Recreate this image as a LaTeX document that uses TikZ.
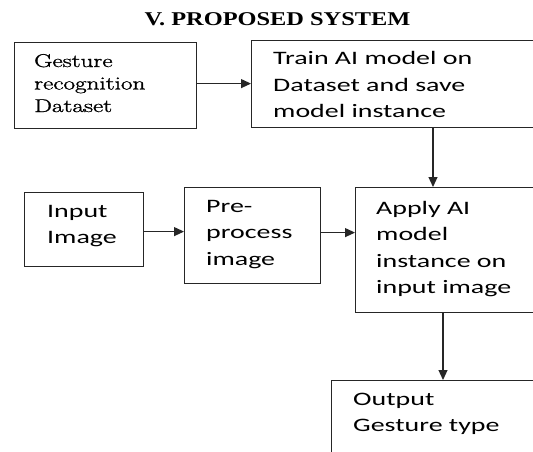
\documentclass[tikz,border=0pt]{standalone}
\usepackage{fontspec}
\usetikzlibrary{arrows.meta}
\newfontfamily\sansx{Carlito}[FakeStretch=1.47]
\newfontfamily\titlex{Liberation Serif}[FakeStretch=1.25,BoldFont={Liberation Serif Bold}]
\newfontfamily\lmx{Latin Modern Roman}[FakeBold=1.2]
\begin{document}
\begin{tikzpicture}[x=1pt,y=-1pt,
  box/.style={draw=black!85, line width=1.2pt, rectangle, inner sep=0pt, anchor=north west},
  arr/.style={draw=black!85, line width=1.2pt, -{Triangle[length=10pt,width=9pt]}},
  stxt/.style={anchor=base west, inner sep=0pt, font=\sansx\fontsize{19}{26.5}\selectfont},
  rtxt/.style={anchor=base west, inner sep=0pt, font=\lmx\fontsize{18.5}{22.5}\selectfont}]
\useasboundingbox (0,0) rectangle (533,452);
\clip (0,0) rectangle (533,452);
% title
\node[anchor=base, inner sep=0pt, font=\titlex\bfseries\fontsize{19.5}{22}\selectfont] (title) at (277.5,26) {V. PROPOSED SYSTEM};
% boxes
\node[box, minimum width=182pt, minimum height=86pt] (gd) at (14,42) {};
\node[box, minimum width=320pt, minimum height=87pt] (tr) at (251,40) {};
\node[box, minimum width=119pt, minimum height=74pt] (in) at (24,192) {};
\node[box, minimum width=136pt, minimum height=96pt] (pre) at (184,187) {};
\node[box, minimum width=220pt, minimum height=125pt] (ap) at (355,187) {};
\node[box, minimum width=240pt, minimum height=110pt] (out) at (331,380) {};
% texts
\node[rtxt] (gdt) at (34,67) {\scalebox{1.36}[1]{\parbox[t]{120pt}{\raggedright Gesture\\recognition\\Dataset}}};
\node[stxt] (trt) at (273,65) {\parbox[t]{300pt}{\raggedright Train AI model on\\Dataset and save\\model instance}};
\node[stxt] (int) at (47,217) {\parbox[t]{150pt}{\raggedright Input\\Image}};
\node[stxt] (pret) at (206,212) {\parbox[t]{150pt}{\raggedright Pre-\\process\\image}};
\node[stxt] (apt) at (376,214) {\parbox[t]{250pt}{\raggedright Apply AI\\model\\instance on\\input image}};
\node[stxt] (outt) at (353,405) {\parbox[t]{250pt}{\raggedright Output\\Gesture type}};
% connectors
\draw[arr] ([yshift=2pt]gd.east) -- ([yshift=2pt]gd.east -| tr.west);
\draw[arr] ([yshift=-2pt]in.east) -- ([yshift=-2pt]in.east -| pre.west);
\draw[arr] ([yshift=3pt]pre.east) -- ([yshift=3pt]pre.east -| ap.west);
\draw[arr] ([xshift=182pt]tr.south west) -- ([xshift=182pt]tr.south west |- ap.north);
\draw[arr] ([xshift=88pt]ap.south west) -- ([xshift=88pt]ap.south west |- out.north);
\end{tikzpicture}
\end{document}
